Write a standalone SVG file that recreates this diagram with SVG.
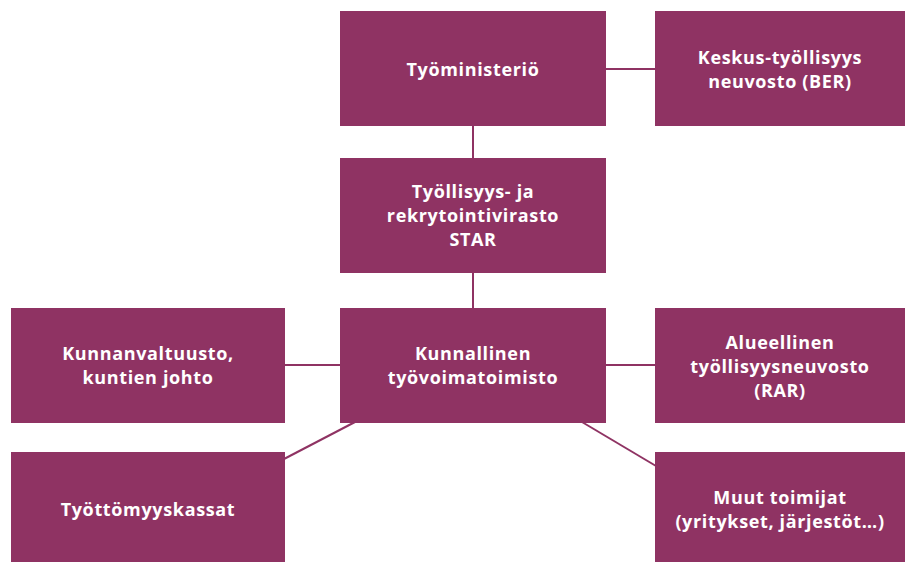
<svg xmlns="http://www.w3.org/2000/svg" width="909" height="562" viewBox="0 0 909 562">
<style>
.box{fill:#8f3363}
.t{fill:#ffffff;font-family:"Open Sans","Liberation Sans",sans-serif;font-weight:700;font-size:18px;text-anchor:middle;letter-spacing:0.65px}
.c{stroke:#8f3363;stroke-width:2;fill:none}
</style>
<rect width="909" height="562" fill="#ffffff"/>
<g id="connectors">
<line class="c" x1="606" y1="69" x2="655" y2="69"/>
<line class="c" x1="473" y1="125" x2="473" y2="159"/>
<line class="c" x1="473" y1="272" x2="473" y2="309"/>
<line class="c" x1="284" y1="365" x2="341" y2="365"/>
<line class="c" x1="605" y1="365" x2="656" y2="365"/>
<line class="c" x1="355" y1="422" x2="284" y2="459"/>
<line class="c" x1="582" y1="422" x2="656" y2="466"/>
</g>
<g id="tyoministerio"><rect class="box" x="340" y="11" width="266" height="115"/><text class="t" x="473" y="76">Työministeriö</text></g>
<g id="ber"><rect class="box" x="655" y="11" width="250" height="115"/><text class="t" x="780" y="64">Keskus-työllisyys</text><text class="t" x="780" y="88">neuvosto (BER)</text></g>
<g id="star"><rect class="box" x="340" y="158" width="266" height="115"/><text class="t" x="473" y="198">Työllisyys- ja</text><text class="t" x="473" y="222">rekrytointivirasto</text><text class="t" x="473" y="246">STAR</text></g>
<g id="kunnanvaltuusto"><rect class="box" x="11" y="308" width="274" height="115"/><text class="t" x="148" y="360">Kunnanvaltuusto,</text><text class="t" x="148" y="384">kuntien johto</text></g>
<g id="kunnallinen"><rect class="box" x="340" y="308" width="266" height="115"/><text class="t" x="473" y="360">Kunnallinen</text><text class="t" x="473" y="384">työvoimatoimisto</text></g>
<g id="rar"><rect class="box" x="655" y="308" width="250" height="115"/><text class="t" x="780" y="349">Alueellinen</text><text class="t" x="780" y="373">työllisyysneuvosto</text><text class="t" x="780" y="397">(RAR)</text></g>
<g id="tyottomyyskassat"><rect class="box" x="11" y="452" width="274" height="110"/><text class="t" x="148" y="516">Työttömyyskassat</text></g>
<g id="muut"><rect class="box" x="655" y="452" width="250" height="110"/><text class="t" x="780" y="504">Muut toimijat</text><text class="t" x="780" y="528">(yritykset, järjestöt…)</text></g>
</svg>
